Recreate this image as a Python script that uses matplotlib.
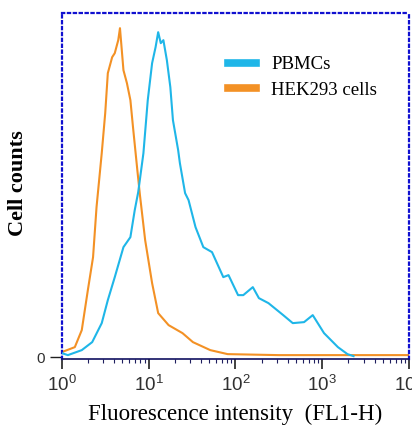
import matplotlib.pyplot as plt
import numpy as np
from matplotlib.ticker import LogLocator, NullFormatter

# log10 fluorescence positions and counts
hek_logx = [0.00, 0.15, 0.23, 0.30, 0.36, 0.40, 0.46, 0.50, 0.53, 0.58, 0.61,
            0.65, 0.67, 0.71, 0.75, 0.79, 0.82, 0.87, 0.90, 0.96, 1.04, 1.11,
            1.23, 1.39, 1.51, 1.71, 1.91, 2.50, 4.00]
hek_counts = [5, 10, 27, 67, 100, 150, 204, 244, 284, 300, 304,
              317, 329, 287, 274, 257, 230, 187, 162, 117, 74, 44,
              32, 24, 15, 7, 3, 2, 2]

pbmc_logx = [0.00, 0.07, 0.23, 0.35, 0.46, 0.53, 0.61, 0.71, 0.79, 0.84, 0.88,
             0.94, 0.99, 1.04, 1.08, 1.11, 1.14, 1.17, 1.21, 1.25, 1.28, 1.34,
             1.36, 1.42, 1.46, 1.54, 1.63, 1.73, 1.86, 1.92, 2.03, 2.09, 2.20,
             2.27, 2.38, 2.55, 2.66, 2.79, 2.89, 3.02, 3.18, 3.29, 3.36]
pbmc_counts = [4, 2, 7, 15, 34, 57, 80, 110, 120, 147, 165,
               204, 257, 294, 310, 325, 314, 317, 297, 270, 237, 207,
               194, 164, 157, 130, 110, 105, 80, 82, 62, 62, 70,
               59, 54, 42, 34, 35, 42, 24, 10, 3, 1]

labels = ['PBMCs', 'HEK293 cells']
colors = ['#1FB6E8', '#F39125']

fig = plt.figure(figsize=(4.12, 4.25), dpi=100)
ax = fig.add_axes([0.150, 0.155, 0.843, 0.814])

ax.plot(10 ** np.array(pbmc_logx), pbmc_counts, color=colors[0], lw=1.5,
        label=labels[0], zorder=3)
ax.plot(10 ** np.array(hek_logx), hek_counts, color=colors[1], lw=1.5,
        label=labels[1], zorder=2)

ax.set_xscale('log')
ax.set_xlim(1, 1e4)
ax.set_ylim(-2, 344)

for s in ax.spines.values():
    s.set_color('#1010D0')
    s.set_linestyle(':')
    s.set_linewidth(1.6)
ax.spines['bottom'].set_linestyle('-')
ax.spines['bottom'].set_color('#101060')
ax.spines['bottom'].set_linewidth(1.2)

ax.xaxis.set_major_locator(LogLocator(base=10, numticks=10))
ax.xaxis.set_minor_locator(LogLocator(base=10, subs=np.arange(2, 10), numticks=10))
ax.xaxis.set_minor_formatter(NullFormatter())
ax.tick_params(axis='x', which='major', length=7, width=1.2, color='#202020',
               labelsize=13.5, pad=4)
ax.tick_params(axis='x', which='minor', length=3, width=0.8, color='#202060')
for t in ax.get_xticklabels():
    t.set_family('Liberation Sans')
    t.set_color('#303030')

ax.set_yticks([0])
ax.set_yticklabels(['0'], family='Liberation Sans', fontsize=11, color='#303030')
ax.tick_params(axis='y', length=9, width=1.0, color='#202020', pad=3)

ax.set_xlabel('Fluorescence intensity  (FL1-H)', family='Liberation Serif',
              fontsize=16.5, labelpad=7)
ax.set_ylabel('Cell counts', family='Liberation Serif', fontsize=16,
              fontweight='bold')
ax.yaxis.set_label_coords(-0.098, 0.51)

leg = ax.legend(loc='upper left', bbox_to_anchor=(0.43, 0.925), frameon=False,
                prop={'family': 'Liberation Serif', 'size': 13.5},
                handlelength=1.5, handletextpad=0.8, labelspacing=0.45)
for h in leg.legend_handles:
    h.set_linewidth(5.5)

fig.savefig('out.png', dpi=100)
